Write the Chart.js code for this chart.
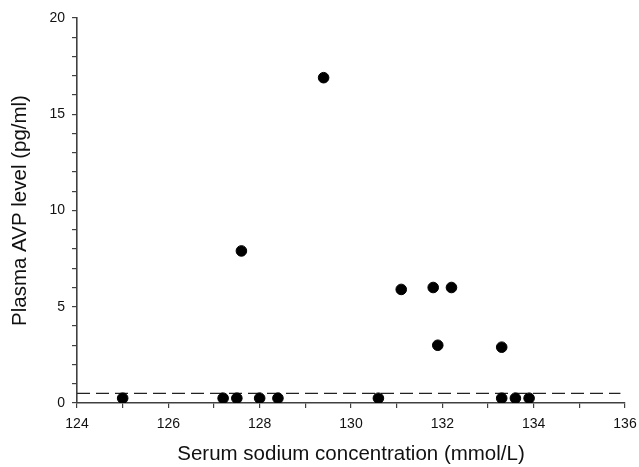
<!DOCTYPE html>
<html>
<head>
<meta charset="utf-8">
<script src="https://cdn.jsdelivr.net/npm/chart.js@4/dist/chart.umd.min.js"></script>
<style>
html,body{margin:0;padding:0;background:#fff;}
#wrap{width:639px;height:467px;}
</style>
</head>
<body>
<div id="wrap"><canvas id="c" width="639" height="467"></canvas></div>
<script>
const sodium = [125.0, 127.2, 127.5, 127.6, 128.0, 128.4, 129.4, 130.6, 131.1, 131.8, 131.9, 132.2, 133.3, 133.3, 133.6, 133.9];
const avp    = [0.25, 0.25, 0.25, 7.9, 0.25, 0.25, 16.9, 0.25, 5.9, 6.0, 3.0, 6.0, 2.9, 0.25, 0.25, 0.25];
const thresholdX = [124, 135.9];
const thresholdY = [0.5, 0.5];
const xTickLabels = [124, 126, 128, 130, 132, 134, 136];
const yTickLabels = [0, 5, 10, 15, 20];

const axisColor = '#404040';
const font = "'Liberation Sans', Arial, sans-serif";

new Chart(document.getElementById('c'), {
  type: 'scatter',
  data: {
    datasets: [
      {
        data: sodium.map((x, i) => ({x: x, y: avp[i]})),
        backgroundColor: '#000',
        borderColor: '#000',
        pointRadius: 5.3,
        pointHoverRadius: 5.3
      },
      {
        type: 'line',
        data: thresholdX.map((x, i) => ({x: x, y: thresholdY[i]})),
        borderColor: '#222',
        borderWidth: 1.3,
        borderDash: [13, 6],
        pointRadius: 0,
        fill: false
      }
    ]
  },
  options: {
    responsive: false,
    animation: false,
    layout: {padding: {left: 0, top: 18, right: 0, bottom: 0}},
    plugins: {legend: {display: false}, tooltip: {enabled: false}},
    scales: {
      x: {
        type: 'linear', min: 124, max: 136,
        border: {display: true, color: axisColor, width: 1.6},
        grid: {display: true, drawOnChartArea: false, drawTicks: true, tickLength: 5, color: axisColor, lineWidth: 1.2},
        ticks: {
          stepSize: 1, autoSkip: false, maxRotation: 0, padding: 8,
          color: '#111', font: {family: font, size: 14},
          callback: v => xTickLabels.includes(v) ? String(v) : ''
        },
        title: {display: true, text: 'Serum sodium concentration (mmol/L)', color: '#111',
                font: {family: font, size: 20.5}, padding: {top: 14, bottom: 0}},
        afterFit: s => { s.height = 64; s.paddingRight = 14; }
      },
      y: {
        type: 'linear', min: 0, max: 20,
        border: {display: true, color: axisColor, width: 1.6},
        grid: {display: true, drawOnChartArea: false, drawTicks: true, tickLength: 5, color: axisColor, lineWidth: 1.2},
        ticks: {
          stepSize: 1, autoSkip: false, padding: 7,
          color: '#111', font: {family: font, size: 14},
          callback: v => yTickLabels.includes(v) ? String(v) : ''
        },
        title: {display: true, text: 'Plasma AVP level (pg/ml)', color: '#111',
                font: {family: font, size: 20.5}, padding: {top: 8, bottom: 0}},
        afterFit: s => { s.width = 77; }
      }
    }
  }
});
</script>
</body>
</html>
